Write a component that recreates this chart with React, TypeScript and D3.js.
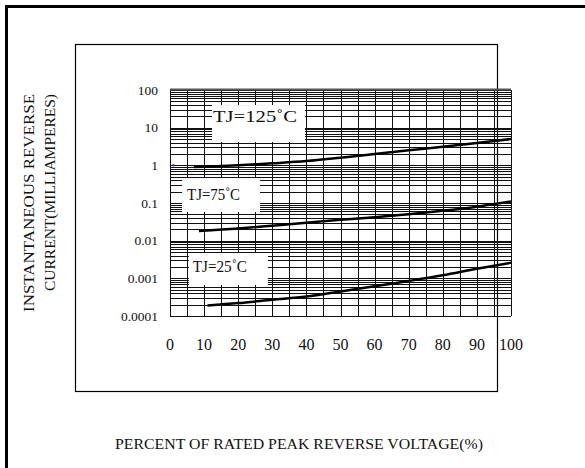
import React from 'react';
import * as d3 from 'd3';

// percent of rated peak reverse voltage
const pct125 = [7, 10, 20, 30, 40, 50, 60, 70, 80, 90, 100];
const cur125 = [0.9, 0.92, 1.0, 1.13, 1.3, 1.6, 2.0, 2.5, 3.1, 3.9, 5.0];

const pct75 = [8.5, 20, 30, 40, 50, 60, 70, 80, 90, 100];
const cur75 = [0.018, 0.021, 0.025, 0.03, 0.036, 0.042, 0.05, 0.062, 0.08, 0.11];

const pct25 = [11, 20, 30, 40, 50, 60, 70, 80, 90, 100];
const cur25 = [0.00019, 0.00022, 0.00027, 0.00033, 0.00045, 0.00062, 0.00085, 0.0012, 0.0018, 0.0026];

const xTicks = [0, 10, 20, 30, 40, 50, 60, 70, 80, 90, 100];
const yTicks = [100, 10, 1, 0.1, 0.01, 0.001, 0.0001];
const yTickLabels = ['100', '10', '1', '0.1', '0.01', '0.001', '0.0001'];

// curve labels: text anchored at (x %, y mA), white box around
const labels = [
    { text: 'TJ=125\u02DAC', x: 12.6, y: 14.1, len: 84, box: [-1, -17, 93, 37] },
    { text: 'TJ=75\u02DAC', x: 5, y: 0.12, len: 53, box: [-5, -22, 78, 34] },
    { text: 'TJ=25\u02DAC', x: 6.7, y: 0.00147, len: 54, box: [-4, -19, 79, 32] },
];

const serif = '"Liberation Serif", "DejaVu Serif", serif';

const plotChart = (ref) => {
    const svg = d3.select(ref.current);
    svg.selectAll('*').remove();

    const x = d3.scaleLinear().domain([0, 100]).range([170, 511]);
    const y = d3.scaleLog().domain([0.0001, 100]).range([316, 90]);

    // outer frame (thick, only top and left visible)
    svg.append('path')
        .attr('d', 'M6.5,600 L6.5,6.5 L600,6.5')
        .attr('fill', 'none')
        .attr('stroke', '#000')
        .attr('stroke-width', 3);

    // inner frame
    svg.append('rect')
        .attr('x', 75.5).attr('y', 44.5)
        .attr('width', 422).attr('height', 347)
        .attr('fill', 'none')
        .attr('stroke', '#000')
        .attr('stroke-width', 1.2);

    const grid = svg.append('g');

    // horizontal log grid
    const hLines = [];
    for (let d = -4; d <= 1; d++) {
        for (let k = 1; k <= 9; k++) hLines.push(k * Math.pow(10, d));
    }
    hLines.push(100);
    grid.selectAll('line.h')
        .data(hLines)
        .enter().append('line')
        .attr('x1', x(0)).attr('x2', x(100))
        .attr('y1', d => Math.round(y(d)) + 0.5)
        .attr('y2', d => Math.round(y(d)) + 0.5)
        .attr('stroke', '#111')
        .attr('stroke-width', 1);

    // vertical grid every 5%
    grid.selectAll('line.v')
        .data(d3.range(0, 101, 5))
        .enter().append('line')
        .attr('x1', d => Math.round(x(d)) + 0.5)
        .attr('x2', d => Math.round(x(d)) + 0.5)
        .attr('y1', y(100)).attr('y2', y(0.0001))
        .attr('stroke', '#111')
        .attr('stroke-width', 1);

    // thicker top edge
    grid.append('line')
        .attr('x1', x(0)).attr('x2', x(100))
        .attr('y1', y(100) - 0.5).attr('y2', y(100) - 0.5)
        .attr('stroke', '#555').attr('stroke-width', 2);

    // white label boxes over the grid
    svg.selectAll('rect.box')
        .data(labels)
        .enter().append('rect')
        .attr('x', d => x(d.x) + d.box[0]).attr('y', d => y(d.y) + d.box[1])
        .attr('width', d => d.box[2]).attr('height', d => d.box[3])
        .attr('fill', '#fff');

    svg.selectAll('text.lbl')
        .data(labels)
        .enter().append('text')
        .attr('x', d => x(d.x))
        .attr('y', d => y(d.y))
        .attr('font-family', serif)
        .attr('font-size', 16)
        .attr('textLength', d => d.len)
        .attr('lengthAdjust', 'spacingAndGlyphs')
        .attr('fill', '#111')
        .text(d => d.text);

    // curves
    const line = d3.line()
        .x(d => x(d[0]))
        .y(d => y(d[1]))
        .curve(d3.curveMonotoneX);

    [[pct125, cur125], [pct75, cur75], [pct25, cur25]].forEach(([p, c]) => {
        svg.append('path')
            .datum(p.map((v, i) => [v, c[i]]))
            .attr('fill', 'none')
            .attr('stroke', '#000')
            .attr('stroke-width', 2.5)
            .attr('d', line);
    });

    // little blue speck near 1 mA
    svg.append('rect')
        .attr('x', x(1) - 1).attr('y', y(1) - 1)
        .attr('width', 2).attr('height', 2)
        .attr('fill', '#2233aa');

    // y tick labels
    svg.selectAll('text.yt')
        .data(yTicks)
        .enter().append('text')
        .attr('x', 158)
        .attr('y', d => y(d) + 4.5)
        .attr('text-anchor', 'end')
        .attr('font-family', serif)
        .attr('font-size', 13.5)
        .attr('fill', '#111')
        .text((d, i) => yTickLabels[i]);

    // x tick labels
    svg.selectAll('text.xt')
        .data(xTicks)
        .enter().append('text')
        .attr('x', d => x(d))
        .attr('y', 350)
        .attr('text-anchor', 'middle')
        .attr('font-family', serif)
        .attr('font-size', 16)
        .attr('fill', '#111')
        .text(d => d);

    // x title
    svg.append('text')
        .attr('x', 299)
        .attr('y', 449)
        .attr('text-anchor', 'middle')
        .attr('font-family', serif)
        .attr('font-size', 14.5)
        .attr('textLength', 368)
        .attr('lengthAdjust', 'spacingAndGlyphs')
        .attr('fill', '#111')
        .text('PERCENT OF RATED PEAK REVERSE VOLTAGE(%)');

    // y title, two lines
    const yTitle = [
        { t: 'INSTANTANEOUS REVERSE', cx: 34, len: 218 },
        { t: 'CURRENT(MILLIAMPERES)', cx: 55, len: 197 },
    ];
    yTitle.forEach(d => {
        svg.append('text')
            .attr('transform', `translate(${d.cx},94) rotate(-90)`)
            .attr('text-anchor', 'end')
            .attr('font-family', serif)
            .attr('font-size', 14.5)
            .attr('textLength', d.len)
            .attr('lengthAdjust', 'spacingAndGlyphs')
            .attr('fill', '#111')
            .text(d.t);
    });
};

function App() {
    const ref = React.useRef(null);

    React.useEffect(() => {
        plotChart(ref);
    }, []);

    return (
        <div style={{ position: 'fixed', left: 0, top: 0, background: '#fff' }}>
            <svg ref={ref} width={585} height={468} style={{ display: 'block' }} />
        </div>
    );
}

export default App;
